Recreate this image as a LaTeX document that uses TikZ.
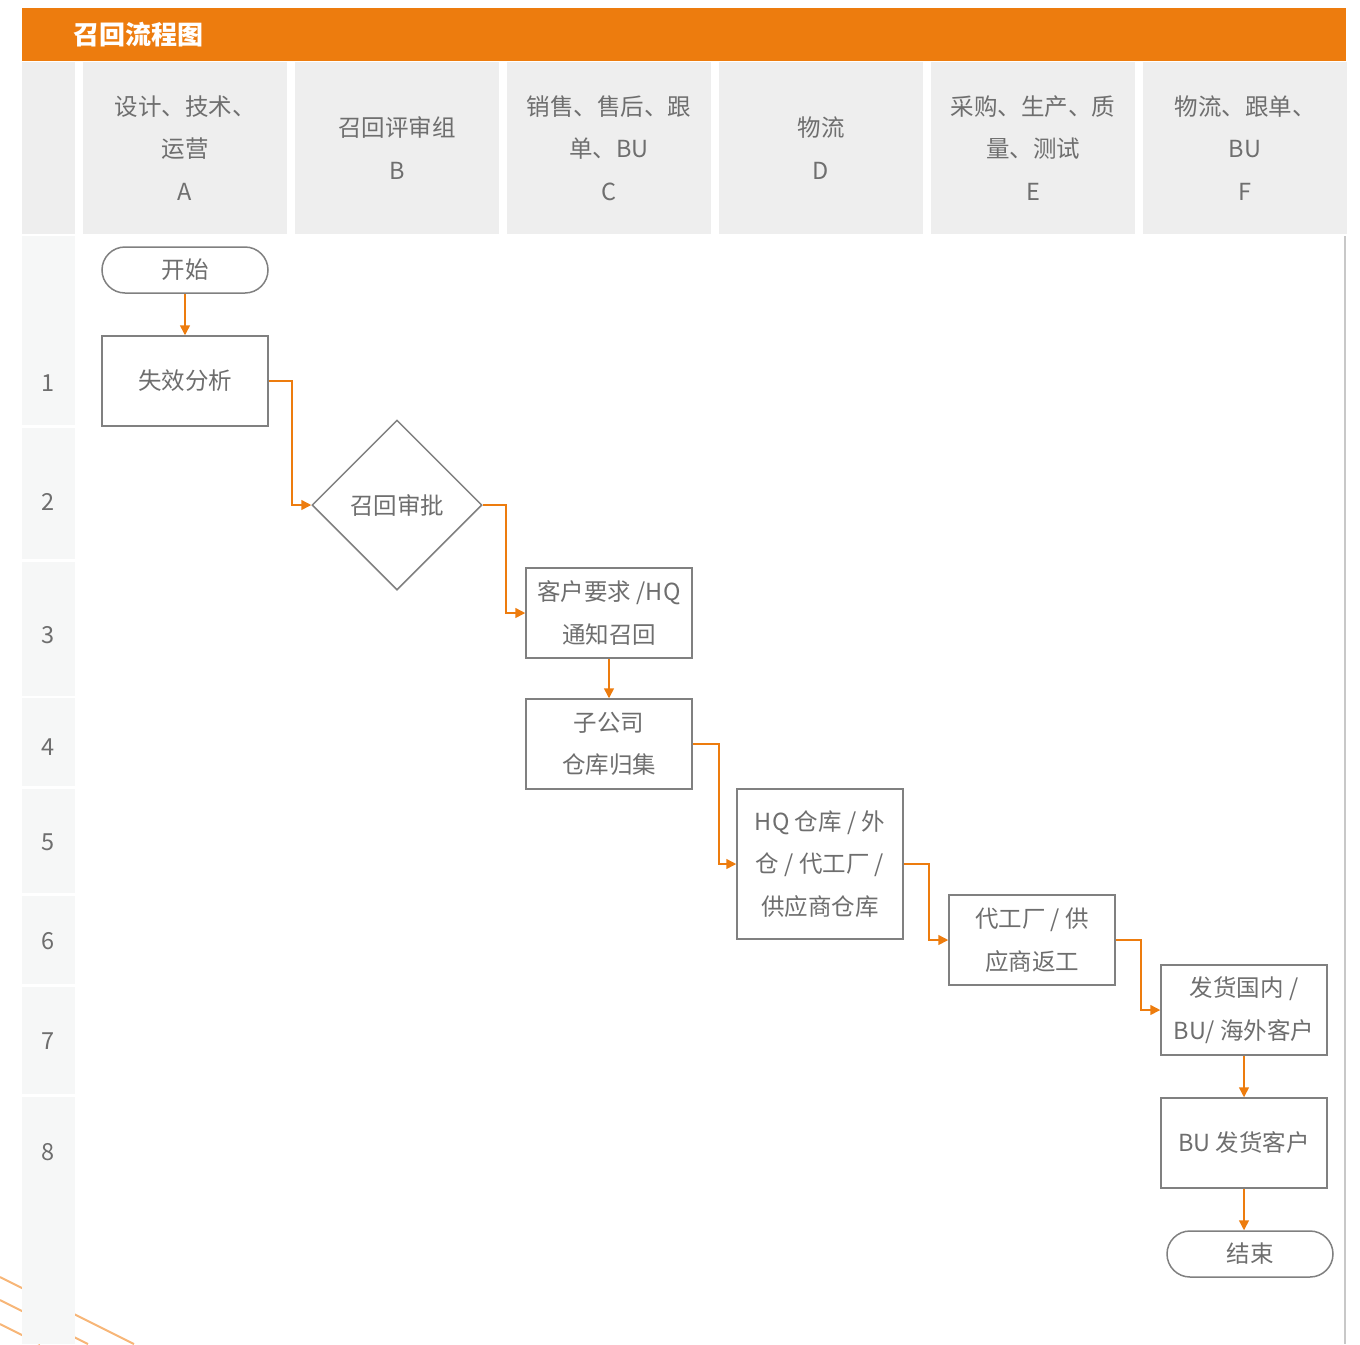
\documentclass[tikz,border=0pt]{standalone}
\usepackage{fontspec}
\setmainfont{Noto Sans CJK SC}
\usepackage{xcolor}
\usepackage{tikz}
\usetikzlibrary{arrows.meta}
\usetikzlibrary{calc}
\usetikzlibrary{shapes.geometric}
\definecolor{recallorange}{RGB}{237,124,14}
\definecolor{stripeorange}{RGB}{247,182,120}
\definecolor{headgray}{RGB}{238,238,238}
\definecolor{rowgray}{RGB}{246,247,247}
\definecolor{boxgray}{RGB}{128,128,128}
\definecolor{textgray}{RGB}{110,110,110}
\definecolor{edgegray}{RGB}{200,200,200}
\newcommand\txt{\fontsize{11.75}{21.25}\selectfont}
\tikzstyle{lane}=[fill=headgray,minimum width=102pt,minimum height=86pt,inner sep=0pt,align=center,font=\txt,text=textgray]
\tikzstyle{rownum}=[inner sep=0pt,font=\txt,text=textgray]
\tikzstyle{stepbox}=[draw=boxgray,line width=.75pt,fill=white,minimum width=83pt,minimum height=45pt,inner sep=0pt,align=center,font=\txt,text=textgray]
\tikzstyle{terminal}=[stepbox,minimum height=23pt,rounded corners=11.5pt]
\tikzstyle{decision}=[stepbox,diamond,aspect=1,minimum width=85pt,minimum height=85pt]
\tikzstyle{flowhead}=[>/.tip={Triangle[length=5pt,width=5pt]}]
\tikzstyle{flow}=[line width=.75pt,recallorange,flowhead,->]

\begin{document}
\begin{tikzpicture}[x=.5pt,y=-.5pt]
	\useasboundingbox (0,0) rectangle (1360,1344);
	% stripes behind the row column
	\draw[stripeorange,line width=1pt] (0,1277) -- (134,1344);
	\draw[stripeorange,line width=1pt] (0,1300) -- (88,1344);
	\draw[stripeorange,line width=1pt] (0,1324) -- (40,1344);
	% title bar
	\fill[recallorange] (22,8) rectangle (1346,61);
	\node[anchor=west,inner sep=0pt,font=\bfseries\fontsize{13}{15}\selectfont,text=white] (title) at (73,35) {召回流程图};
	% lanes
	\fill[headgray] (22,62) rectangle (75,234);
	\node[lane] (laneA) at (185,148) {设计、技术、\\运营\\A};
	\node[lane] (laneB) at (397,148) {召回评审组\\B};
	\node[lane] (laneC) at (609,148) {销售、售后、跟\\单、BU\\C};
	\node[lane] (laneD) at (821,148) {物流\\D};
	\node[lane] (laneE) at (1033,148) {采购、生产、质\\量、测试\\E};
	\node[lane] (laneF) at (1245,148) {物流、跟单、\\BU\\F};
	% rows
	\fill[rowgray] (22,236) rectangle (75,425);
	\fill[rowgray] (22,428) rectangle (75,559);
	\fill[rowgray] (22,562) rectangle (75,696);
	\fill[rowgray] (22,698) rectangle (75,786);
	\fill[rowgray] (22,789) rectangle (75,893);
	\fill[rowgray] (22,896) rectangle (75,984);
	\fill[rowgray] (22,987) rectangle (75,1094);
	\fill[rowgray] (22,1097) rectangle (75,1344);
	\node[rownum] (r1) at (48,383) {1};
	\node[rownum] (r2) at (48,502) {2};
	\node[rownum] (r3) at (48,635) {3};
	\node[rownum] (r4) at (48,747) {4};
	\node[rownum] (r5) at (48,842) {5};
	\node[rownum] (r6) at (48,941) {6};
	\node[rownum] (r7) at (48,1041) {7};
	\node[rownum] (r8) at (48,1152) {8};
	\draw[edgegray,line width=1pt] (1345,236) -- (1345,1344);
	% steps
	\node[terminal] (start) at (185,270) {开始};
	\node[stepbox] (fail) at (185,381) {失效分析};
	\node[decision] (approve) at (397,505) {召回审批};
	\node[stepbox] (notify) at (609,613) {客户要求 /HQ\\通知召回};
	\node[stepbox] (collect) at (609,744) {子公司\\仓库归集};
	\node[stepbox,minimum height=75pt] (hqstore) at (820,864) {HQ 仓库 / 外\\仓 / 代工厂 /\\供应商仓库};
	\node[stepbox] (rework) at (1032,940) {代工厂 / 供\\应商返工};
	\node[stepbox] (ship) at (1244,1010) {发货国内 /\\BU/ 海外客户};
	\node[stepbox] (bu) at (1244,1143) {BU 发货客户};
	\node[terminal] (done) at (1250,1254) {结束};
	% connectors
	\draw[flow] (start) -- (fail);
	\draw[flow] (fail.east) -- ++(23,0) |- (approve.west);
	\draw[flow] (approve.east) -- ++(23,0) |- (notify.west);
	\draw[flow] (notify) -- (collect);
	\draw[flow] (collect.east) -- ++(26,0) |- (hqstore.west);
	\draw[flow] (hqstore.east) -- ++(25,0) |- (rework.west);
	\draw[flow] (rework.east) -- ++(25,0) |- (ship.west);
	\draw[flow] (ship) -- (bu);
	\draw[flow] (bu.south) -- (bu.south |- done.north);
\end{tikzpicture}
\end{document}
